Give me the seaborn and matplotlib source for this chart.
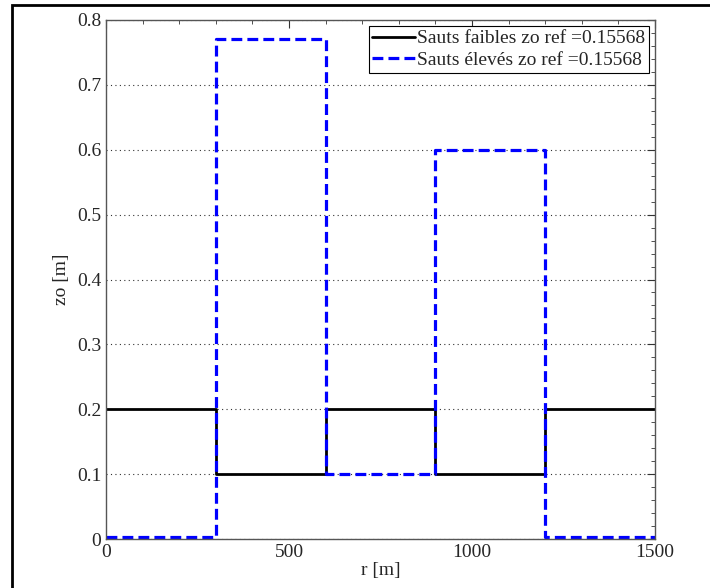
import seaborn as sns
import matplotlib.pyplot as plt
import matplotlib.patches as mpatches
from matplotlib.ticker import MultipleLocator
import pandas as pd

# step edges along r, and z0 value on each segment (last value repeated for steps-post)
r_edges = [0, 300, 600, 900, 1200, 1500]
z0_faibles = [0.2, 0.1, 0.2, 0.1, 0.2, 0.2]
z0_eleves = [0.003, 0.77, 0.1, 0.6, 0.003, 0.003]
labels = ['Sauts faibles zo ref =0.15568', 'Sauts élevés zo ref =0.15568']

sns.set_style('white')
plt.rcParams['font.family'] = ['Liberation Serif', 'DejaVu Serif']

fig = plt.figure(figsize=(7.10, 5.88), dpi=100)
ax = fig.add_axes([106 / 710, 1 - 539 / 588, (655 - 106) / 710, (539 - 20) / 588])

# outer frame (only left/top visible in the crop)
fig.patches.append(mpatches.Rectangle((12 / 710, -0.1), 1.2, 1 - 5 / 588 + 0.1,
                                      transform=fig.transFigure, fill=False,
                                      edgecolor='black', linewidth=2, zorder=0))

df1 = pd.DataFrame({'r': r_edges, 'z0': z0_faibles})
df2 = pd.DataFrame({'r': r_edges, 'z0': z0_eleves})
sns.lineplot(data=df1, x='r', y='z0', ax=ax, color='black', linewidth=2,
             drawstyle='steps-post', label=labels[0])
sns.lineplot(data=df2, x='r', y='z0', ax=ax, color='#0000ff', linewidth=2.3,
             linestyle=(0, (3.4, 1.6)), drawstyle='steps-post', label=labels[1])

ax.set_xlim(0, 1500)
ax.set_ylim(0, 0.8)
ax.xaxis.set_major_locator(MultipleLocator(500))
ax.xaxis.set_minor_locator(MultipleLocator(100))
ax.yaxis.set_minor_locator(MultipleLocator(0.02))
ax.set_yticks([0, 0.1, 0.2, 0.3, 0.4, 0.5, 0.6, 0.7, 0.8])
ax.set_yticklabels(['0', '0.1', '0.2', '0.3', '0.4', '0.5', '0.6', '0.7', '0.8'])
ax.tick_params(which='both', direction='in', top=True, right=True, labelsize=14,
               color='#333333')
ax.tick_params(which='major', length=6)
ax.tick_params(which='minor', length=3)
for s in ax.spines.values():
    s.set_color('#555555')
    s.set_linewidth(1)
ax.yaxis.grid(True, which='major', linestyle=(0, (1, 3)), color='#333333', linewidth=0.8)
ax.xaxis.grid(False)

ax.set_xlabel('r [m]', fontsize=14, labelpad=1)
ax.set_ylabel('zo [m]', fontsize=14, labelpad=5)

leg = ax.legend(loc='upper right', fontsize=14, handlelength=2.2, handletextpad=0.1,
                borderaxespad=0.3, borderpad=0.2, labelspacing=0.2, fancybox=False,
                framealpha=1)
leg.get_frame().set_edgecolor('black')
leg.get_frame().set_linewidth(0.8)

fig.savefig('out.png', dpi=100)
